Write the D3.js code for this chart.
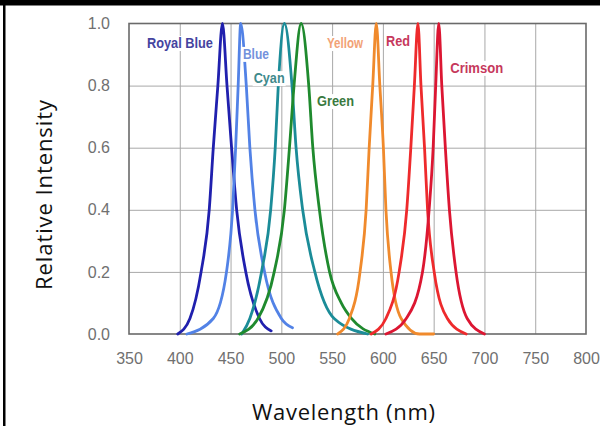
<!DOCTYPE html>
<html>
<head>
<meta charset="utf-8">
<script src="https://cdn.jsdelivr.net/npm/d3@7"></script>
<style>
  body { margin: 0; background: #fff; }
  svg { display: block; }
  .tick-label { font-family: 'Liberation Sans', Arial, sans-serif; font-size: 16px; fill: #707070; }
  .axis-title { font-family: 'Open Sans', sans-serif; font-size: 22px; fill: #111; }
  .peak-label { font-family: 'Liberation Sans', Arial, sans-serif; font-size: 14px; font-weight: bold; }
</style>
</head>
<body>
<div class="chart"></div>
<script>
'use strict';

// tick values
var X_TICKS = [350, 400, 450, 500, 550, 600, 650, 700, 750, 800];
var Y_TICKS = [0, 0.2, 0.4, 0.6, 0.8, 1.0];

// spectra: [wavelength nm, relative intensity]
var royalBlue = [[398, 0], [410, 0.05], [421, 0.2], [429, 0.4], [433, 0.6], [437.5, 0.8], [442, 1], [446.5, 0.8], [451, 0.6], [456, 0.4], [465, 0.2], [478.5, 0.05], [490, 0.01]];
var blue = [[407, 0], [433, 0.05], [446, 0.2], [452, 0.4], [455, 0.6], [457.5, 0.8], [460, 1], [465.5, 0.8], [469, 0.6], [474, 0.4], [483.5, 0.2], [500, 0.05], [511, 0.02]];
var cyan = [[461, 0], [469, 0.05], [480.5, 0.2], [489.5, 0.4], [494, 0.6], [497, 0.8], [503, 1], [510.5, 0.8], [514.5, 0.6], [521, 0.4], [533, 0.2], [552, 0.05], [585, 0]];
var green = [[459, 0], [477, 0.05], [493, 0.2], [503, 0.4], [508, 0.6], [512.5, 0.8], [519.5, 1], [527, 0.8], [531, 0.6], [537.5, 0.4], [547.5, 0.2], [559, 0.1], [569, 0.05], [592, 0]];
var yellow = [[555.5, 0], [567, 0.05], [577.5, 0.2], [583.5, 0.4], [586.5, 0.6], [590, 0.8], [593.5, 1], [597, 0.8], [600.5, 0.6], [603, 0.4], [608, 0.2], [618, 0.05], [636, 0], [650, 0]];
var red = [[588.5, 0], [603, 0.05], [616, 0.2], [623.5, 0.4], [627.5, 0.6], [631, 0.8], [634.5, 1], [637.5, 0.8], [641, 0.6], [644, 0.4], [650.5, 0.2], [663.5, 0.05], [682, 0]];
var crimson = [[603, 0], [623, 0.05], [639, 0.2], [645.5, 0.4], [649.5, 0.6], [652, 0.8], [655, 1], [658, 0.8], [661.5, 0.6], [665.5, 0.4], [672, 0.2], [683, 0.05], [700, 0]];

var SERIES_NAMES = ['Royal Blue', 'Blue', 'Cyan', 'Green', 'Yellow', 'Red', 'Crimson'];
var SERIES_DATA = [royalBlue, blue, cyan, green, yellow, red, crimson];
var LINE_COLOR = ['#2020ae', '#5282e6', '#1b8c98', '#1f8a2e', '#f08a2c', '#ee2a2c', '#dc1632'];
var LABEL_COLOR = ['#45449f', '#7391dc', '#3f8a8c', '#3a7a40', '#f2a276', '#c6385c', '#c6385c'];
// label anchor (wavelength, intensity) for each series name
var LABEL_AT = [[400.2, 0.921], [475, 0.886], [488, 0.808], [553.3, 0.734], [562.7, 0.921], [615, 0.928], [692.4, 0.841]];
// the original uses a condensed face; squeeze each label to its width there
var LABEL_WIDTH = [66, 26, 31, 37, 36, 24, 53];

var W = 600, H = 426;
var svg = d3.select('.chart').append('svg')
  .attr('width', W)
  .attr('height', H);

svg.append('rect').attr('width', W).attr('height', H).attr('fill', '#fff');

var x = d3.scaleLinear().domain([350, 800]).range([129, 586]);
var y = d3.scaleLinear().domain([0, 1]).range([334, 23.5]);

// grid
var grid = svg.append('g').attr('class', 'grid');
grid.append('g')
  .attr('transform', 'translate(0,' + y(0) + ')')
  .call(d3.axisBottom(x).tickValues(X_TICKS.slice(1, -1)).tickSize(y(1) - y(0)).tickFormat(''));
grid.append('g')
  .attr('transform', 'translate(' + x(350) + ',0)')
  .call(d3.axisLeft(y).tickValues(Y_TICKS.slice(1, -1)).tickSize(x(350) - x(800)).tickFormat(''));
grid.selectAll('.domain').remove();
grid.selectAll('line').attr('stroke', '#a8a8a8').attr('stroke-width', 1);

// frame
svg.append('rect')
  .attr('x', x(350))
  .attr('y', y(1))
  .attr('width', x(800) - x(350))
  .attr('height', y(0) - y(1))
  .attr('fill', 'none')
  .attr('stroke', '#6a6a6a')
  .attr('stroke-width', 1.6);

// tick labels
var xAxis = svg.append('g')
  .attr('transform', 'translate(0,' + (y(0) + 16) + ')')
  .call(d3.axisBottom(x).tickValues(X_TICKS).tickSize(0).tickFormat(d3.format('d')));
var yAxis = svg.append('g')
  .attr('transform', 'translate(' + (x(350) - 16) + ',0)')
  .call(d3.axisLeft(y).tickValues(Y_TICKS).tickSize(0).tickFormat(d3.format('.1f')));
[xAxis, yAxis].forEach(function(a) {
  a.select('.domain').remove();
  a.selectAll('text').attr('class', 'tick-label').attr('fill', null);
  a.attr('font-size', null).attr('font-family', null);
});

// curves
var line = d3.line()
  .x(function(d) { return x(d[0]); })
  .y(function(d) { return y(d[1]); })
  .curve(d3.curveMonotoneX);

svg.append('g')
  .selectAll('path')
  .data(SERIES_DATA)
  .enter()
  .append('path')
  .attr('d', line)
  .attr('fill', 'none')
  .attr('stroke', function(d, i) { return LINE_COLOR[i]; })
  .attr('stroke-width', 2.8)
  .attr('stroke-linejoin', 'round')
  .attr('stroke-linecap', 'round');

// peak labels with white backing so they cut the lines like the original
var labels = svg.append('g')
  .selectAll('g')
  .data(SERIES_NAMES)
  .enter()
  .append('g');
labels.append('text')
  .attr('class', 'peak-label')
  .attr('x', function(d, i) { return x(LABEL_AT[i][0]); })
  .attr('y', function(d, i) { return y(LABEL_AT[i][1]); })
  .attr('text-anchor', 'middle')
  .attr('textLength', function(d, i) { return LABEL_WIDTH[i]; })
  .attr('lengthAdjust', 'spacingAndGlyphs')
  .attr('fill', function(d, i) { return LABEL_COLOR[i]; })
  .text(function(d) { return d; });
labels.each(function() {
  var g = d3.select(this);
  var b = g.select('text').node().getBBox();
  g.insert('rect', 'text')
    .attr('x', b.x - 1)
    .attr('y', b.y + 1)
    .attr('width', b.width + 2)
    .attr('height', b.height - 1)
    .attr('fill', '#fff');
});

// axis titles
svg.append('text')
  .attr('class', 'axis-title')
  .attr('x', 343.5)
  .attr('y', 420)
  .attr('text-anchor', 'middle')
  .attr('textLength', 183)
  .attr('lengthAdjust', 'spacing')
  .text('Wavelength (nm)');
svg.append('text')
  .attr('class', 'axis-title')
  .attr('transform', 'translate(52,195) rotate(-90)')
  .attr('text-anchor', 'middle')
  .attr('textLength', 190)
  .attr('lengthAdjust', 'spacing')
  .text('Relative Intensity');

// black border of the original picture
svg.append('rect').attr('x', 0).attr('y', 0).attr('width', W).attr('height', 5.5).attr('fill', '#000');
svg.append('rect').attr('x', 3).attr('y', 0).attr('width', 2.5).attr('height', H).attr('fill', '#000');
</script>
</body>
</html>
